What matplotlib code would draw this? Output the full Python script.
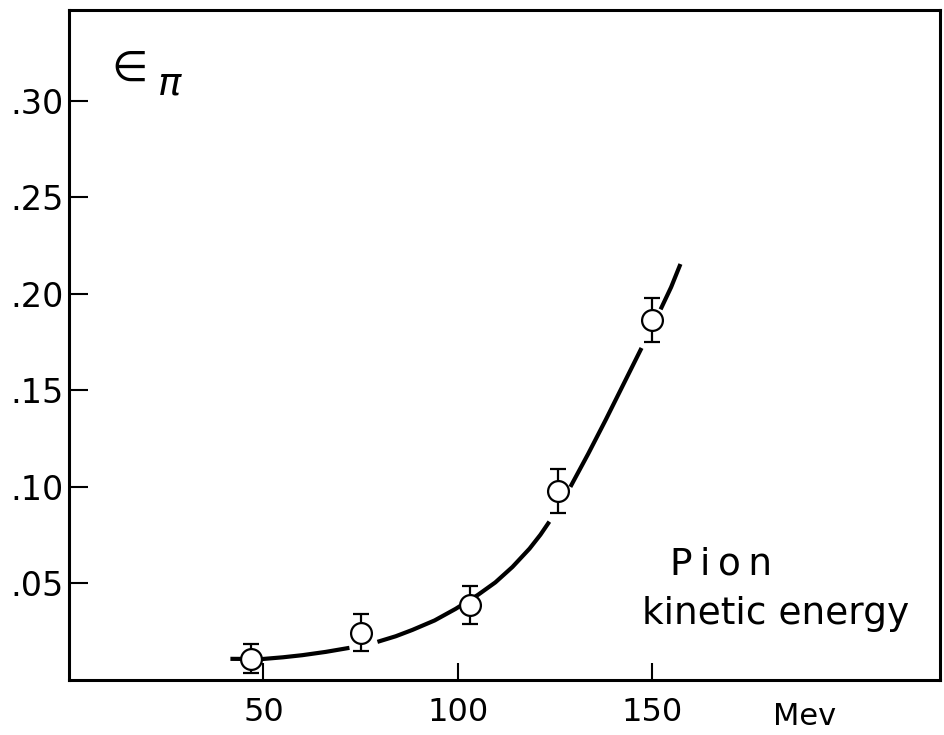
import numpy as np
import matplotlib
matplotlib.use("Agg")
import matplotlib.pyplot as plt

# measured points: pion kinetic energy (MeV) vs efficiency
energy = [46.9, 75.2, 103.0, 125.6, 150.0]
eff = [0.0109, 0.0244, 0.0389, 0.098, 0.1865]
eff_err = [0.0075, 0.0095, 0.010, 0.0115, 0.0115]

# hand-drawn guide curve, broken around the data points (nan = gap)
curve_x = [41.5, 49.7, 55.0, 60.0, 66.0, 72.1, np.nan,
           79.3, 84.0, 88.3, 94.0, 99.4, 105.1, 109.6, 114.0, 118.4, 121.2, 123.5, np.nan,
           128.9, 133.5, 138.0, 142.5, 147.2, np.nan,
           152.1, 154.8, 157.2]
curve_y = [0.0109, 0.0108, 0.0117, 0.0128, 0.0145, 0.0166, np.nan,
           0.0197, 0.0226, 0.0259, 0.0308, 0.0368, 0.044, 0.0505, 0.0585, 0.0680, 0.0752, 0.0820, np.nan,
           0.100, 0.1172, 0.1348, 0.1530, 0.172, np.nan,
           0.192, 0.2035, 0.2155]

yticks = [0.05, 0.10, 0.15, 0.20, 0.25, 0.30]
ytick_labels = [".05", ".10", ".15", ".20", ".25", ".30"]
xticks = [50, 100, 150]
xtick_labels = ["50", "100", "150"]

plt.rcParams['font.family'] = ['DejaVu Sans']
plt.rcParams['mathtext.fontset'] = 'dejavusans'

fig = plt.figure(figsize=(9.45, 7.35), dpi=100)
ax = fig.add_axes([0.073, 0.075, 0.922, 0.911])

ax.plot(curve_x, curve_y, color='k', lw=3.0, solid_capstyle='butt',
        solid_joinstyle='round', zorder=2)
ax.errorbar(energy, eff, yerr=eff_err, fmt='o', ms=15, mfc='white', mec='k',
            mew=1.6, ecolor='k', elinewidth=1.6, capsize=5.5, capthick=1.8, zorder=3)

ax.set_xlim(0, 224)
ax.set_ylim(0, 0.347)

ax.set_yticks(yticks)
ax.set_yticklabels(ytick_labels, fontsize=24)
ax.set_xticks(xticks)
ax.set_xticklabels(xtick_labels, fontsize=23)
ax.tick_params(axis='y', direction='in', length=14, width=1.5, pad=4)
ax.tick_params(axis='x', direction='in', length=12, width=1.5, pad=12)

for s in ax.spines.values():
    s.set_linewidth(2.2)

# epsilon with pion subscript
ax.text(8.8, 0.3105, r'$\in$', fontsize=30)
ax.text(22.5, 0.3035, r'$\pi$', fontsize=28)
ax.text(154.4, 0.0544, "P\u2009i\u2009o\u2009n", fontsize=27)
ax.text(147.4, 0.029, "kinetic energy", fontsize=27)
ax.text(181, -0.019, "Mev", fontsize=22, va='center', clip_on=False)

fig.savefig("out.png", dpi=100)
